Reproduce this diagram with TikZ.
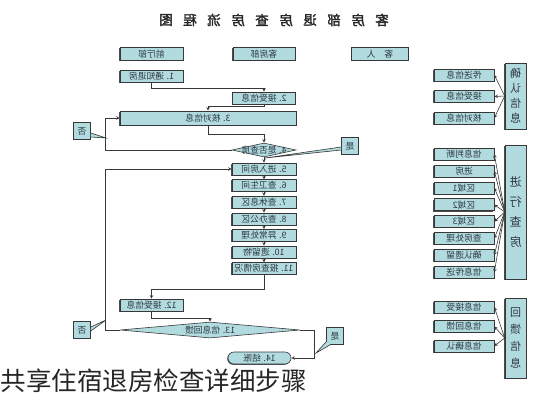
\documentclass[tikz,border=0pt]{standalone}
\usepackage{fontspec}
\usepackage{graphicx}
\setmainfont{Noto Sans CJK SC}
\newfontfamily\titlefont[FakeBold=2]{Noto Sans CJK SC}
\usetikzlibrary{positioning,shapes.geometric,shadows}

\definecolor{boxfill}{RGB}{178,219,223}
\definecolor{linecol}{RGB}{55,55,55}
\definecolor{txtcol}{RGB}{45,55,65}
\newcommand{\mr}[1]{\reflectbox{#1}}

\tikzset{
    boxtext/.style={text=txtcol, font=\fontsize{8.8}{9}\selectfont},
    flowbox/.style={
        draw=linecol,
        fill=boxfill,
        boxtext,
        inner sep=0pt,
        minimum width=63pt,
        minimum height=12pt,
        drop shadow={shadow xshift=-0.8pt, shadow yshift=-0.8pt, opacity=1, fill=black!70}
    },
    subbox/.style={flowbox, minimum width=60pt},
    decision/.style={diamond, draw=linecol, fill=boxfill, inner sep=0pt},
    callbox/.style={draw=linecol, fill=boxfill, boxtext, inner sep=0pt, minimum size=17pt},
    panel/.style={
        draw=linecol,
        fill=boxfill,
        text=txtcol,
        align=center,
        inner sep=0pt,
        minimum width=21pt,
        drop shadow={shadow xshift=-0.8pt, shadow yshift=-0.8pt, opacity=1, fill=black!70}
    },
    arr/.style={-stealth}
}

\begin{document}
\begin{tikzpicture}[x=1pt, y=-1pt, line width=0.6pt, draw=linecol]
    \useasboundingbox (0,0) rectangle (533,400);

    % title
    \foreach \c [count=\i] in {客,房,部,退,房,查,房,流,程,图}
        \node[font=\titlefont\fontsize{13.5}{14}\selectfont, text=black!85] (t\i) at ({382-(\i-1)*24}, 20) {\mr{\c}};

    % column heads
    \node[flowbox, line width=0.9pt, minimum height=13pt](front) at (151.5,54){\mr{前厅部}};
    \node[flowbox, line width=0.9pt, minimum height=13pt, minimum width=62pt](house) at (264,54){\mr{客房部}};
    \node[flowbox, line width=0.9pt, minimum height=13pt, minimum width=57pt](guest) at (380,54){\mr{客\quad 人}};

    % main flow
    \node[flowbox](n1) at (151.5,76){\mr{1. 通知退房}};
    \node[flowbox](n2) at (264,98){\mr{2. 接受信息}};
    \node[flowbox, minimum width=176pt, minimum height=14pt](n3) at (208,118){\mr{3. 核对信息}};
    \node[
        decision,
        minimum width=64pt,
        minimum height=14pt,
        label={[boxtext]center:\mr{4. 是否查房}}
    ](d4) at (264,150){};

    \foreach \t [count=\i from 5] in {5. 进入房间,6. 查卫生间,7. 查休息区,8. 查办公区,9. 异常处理,10. 遗留物,11. 报查房情况}
        \node[flowbox, minimum width=64pt](n\i) at (264, {169+(\i-5)*16.6}){\mr{\t}};

    \node[flowbox](n12) at (151.5,305){\mr{12. 接受信息}};
    \node[
        decision,
        minimum width=180pt,
        minimum height=16pt,
        label={[boxtext]center:\mr{13. 信息回馈}}
    ](d13) at (210,330){};
    \node[flowbox, rounded corners=6pt, drop shadow={opacity=0}](n14) at (259.5,358){\mr{14. 结账}};

    % yes / no
    \node[callbox](no1) at (82,131){\mr{否}};
    \node[callbox](yes1) at (350,146){\mr{是}};
    \node[callbox](no2) at (82,330){\mr{否}};
    \node[callbox](yes2) at (335,336){\mr{是}};
    \coordinate (colL) at (105.5,0);
    \coordinate (colR) at (314,0);
    \coordinate (tipA) at (106,138);
    \coordinate (tipB) at (265,158);
    \coordinate (tipC) at (106,320);
    \coordinate (tipD) at (316,353);

    % connectors
    \draw[arr](n1.south) -- ++(0,6) -| (n2.north);
    \draw[arr](n2.south) -- ++(0,2) -| (n3.north);
    \draw[arr](n3.south) -- ++(0,9) -| (d4.north);
    \draw[arr](d4.west) -| (colL |- n3.west) -- (n3.west);
    \draw[arr](d4.south) -- (n5.north);
    \foreach \i [evaluate=\i as \j using int(\i+1)] in {5,...,10}
        \draw[arr](n\i.south) -- (n\j.north);
    \draw[arr](n11.south) -- ++(0,14) -| (n12.north);
    \draw[arr](n12.south) -- ++(0,7) -| (d13.north);
    \draw[arr](d13.west) -| (colL |- n5.west) -- (n5.west);
    \draw[arr](d13.east) -| (colR |- n14.east) -- (n14.east);

    \filldraw[fill=boxfill]([yshift=-2pt]no1.east) -- (tipA) -- ([yshift=-6pt]no1.east);
    \filldraw[fill=boxfill]([yshift=-1pt]yes1.west) -- (tipB) -- ([yshift=-4pt]yes1.west);
    \filldraw[fill=boxfill]([yshift=3pt]no2.east) -- (tipC) -- ([yshift=-1pt]no2.east);
    \filldraw[fill=boxfill]([yshift=3pt]yes2.south west) -- (tipD) -- ([xshift=4pt]yes2.south west);

    % side panels
    \node[panel, minimum height=66pt, font=\fontsize{11}{15}\selectfont](pA) at (515.5,96)
        {\mr{确}\\\mr{认}\\\mr{信}\\\mr{息}};
    \node[panel, minimum height=134pt, font=\fontsize{12}{20}\selectfont](pB) at (515.5,212)
        {\mr{进}\\\mr{行}\\\mr{查}\\\mr{房}};
    \node[panel, minimum height=80pt, font=\fontsize{11}{17}\selectfont](pC) at (515.5,338)
        {\mr{回}\\\mr{馈}\\\mr{信}\\\mr{息}};

    \foreach \t [count=\i] in {传送信息,接受信息,核对信息}{
        \node[subbox](a\i) at (464, {75+(\i-1)*21.5}){\mr{\t}};
        \draw[arr](pA.west) -- (a\i.east);
    }
    \foreach \t [count=\i] in {信息判断,进房,区域1,区域2,区域3,查房处理,确认遗留,信息传送}{
        \node[subbox](b\i) at (464, {154+(\i-1)*16.9}){\mr{\t}};
        \draw[arr](pB.west) -- (b\i.east);
    }
    \foreach \t [count=\i] in {信息接受,信息回馈,信息确认}{
        \node[subbox](c\i) at (464, {307+(\i-1)*19.5}){\mr{\t}};
        \draw[arr](pC.west) -- (c\i.east);
    }

    % caption
    \node[anchor=west, inner sep=0pt, text=black!85, font=\fontsize{25.5}{26}\selectfont](caption) at (0.5,381)
        {共享住宿退房检查详细步骤};
\end{tikzpicture}
\end{document}
